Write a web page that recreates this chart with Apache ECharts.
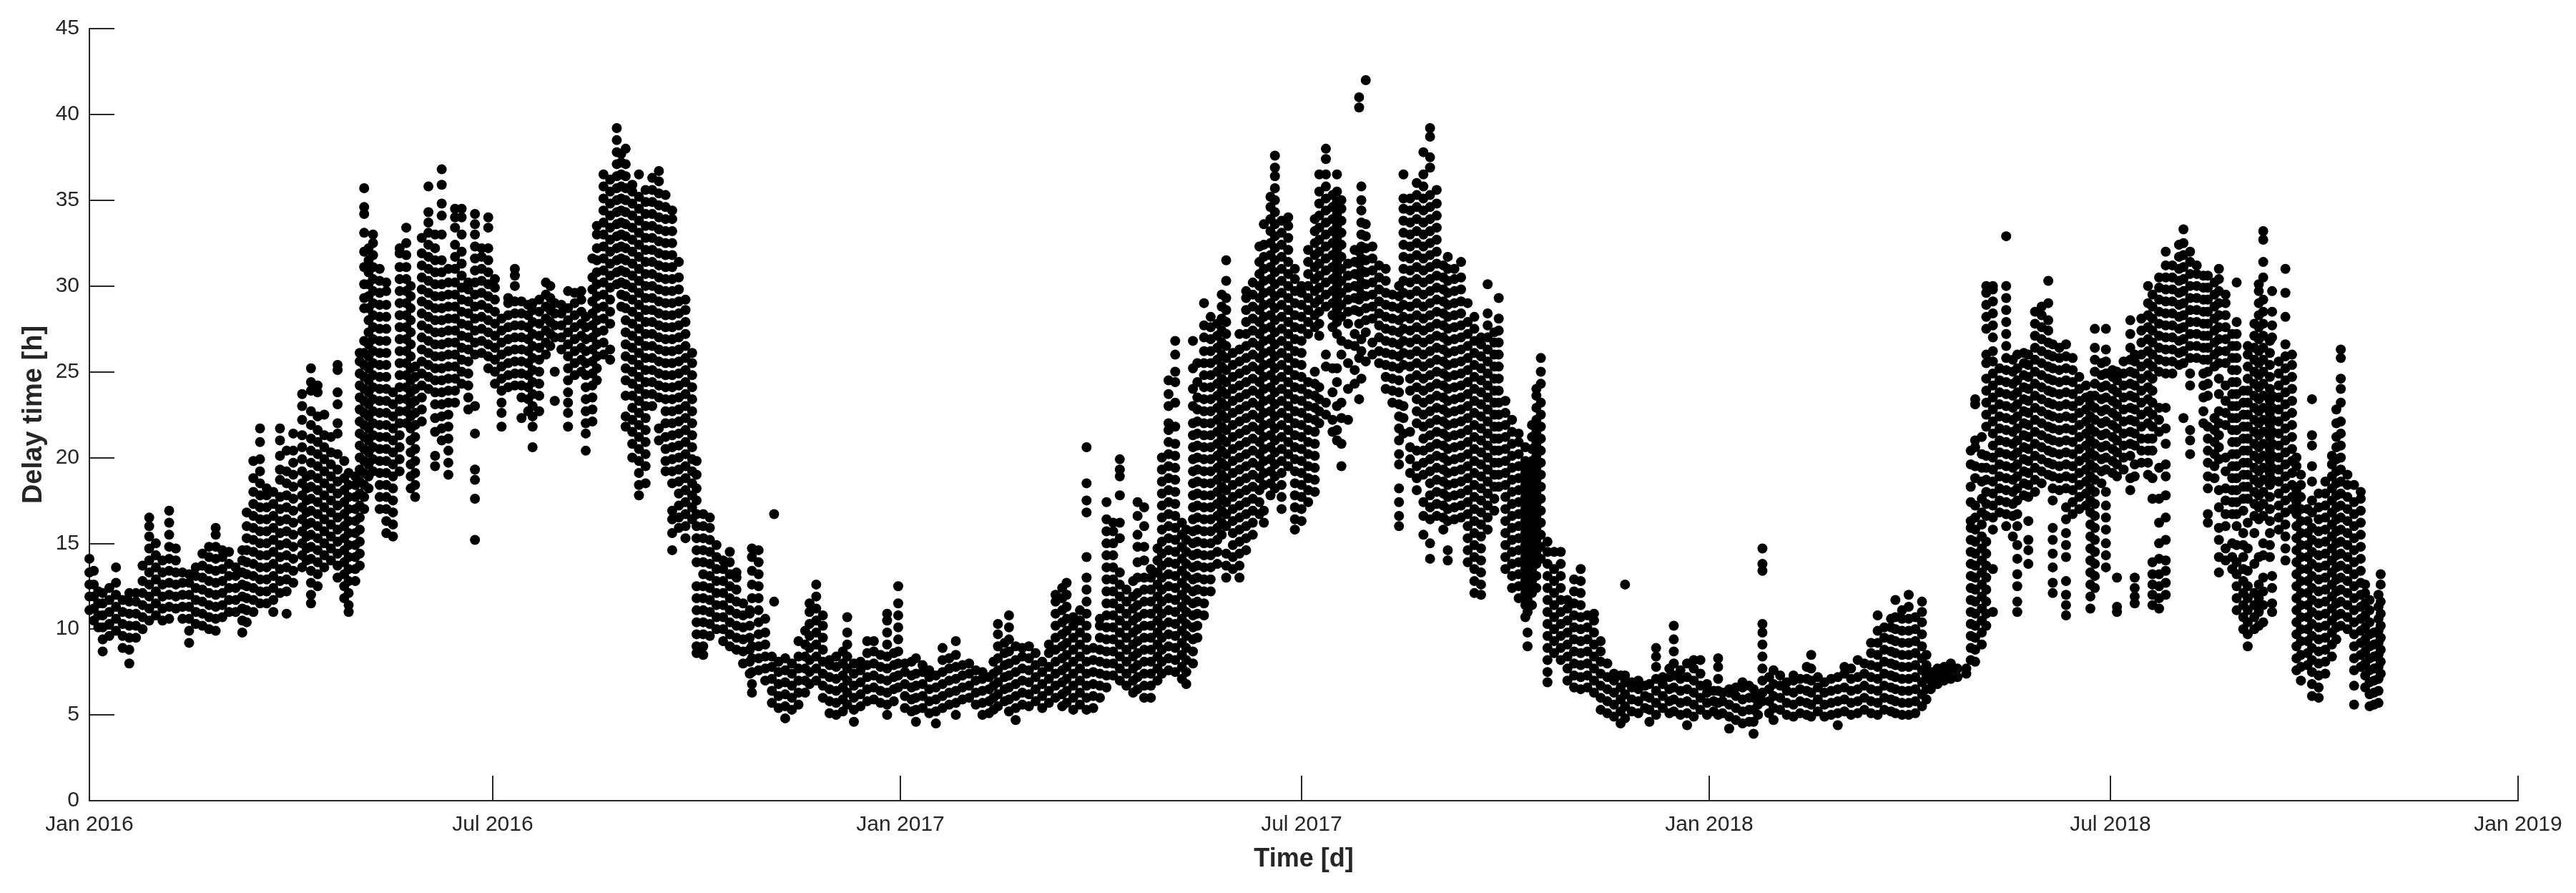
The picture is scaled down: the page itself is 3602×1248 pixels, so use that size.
<!DOCTYPE html>
<html>
<head>
<meta charset="utf-8">
<style>
    html, body { margin: 0; padding: 0; background: #fff; }
    #delayChart { width: 3602px; height: 1248px; }
</style>
</head>
<body>
<div id="delayChart"></div>
<script src="https://cdn.jsdelivr.net/npm/echarts@6/dist/echarts.min.js"></script>
<script>
// [days since 1 Jan 2016, delay values in hours...]
const delay2016a = [
[0,11.1,11.9,12.6,13.3,14.1],[2,10.5,11.2,11.9,12.6,13.4],[4,10.1,10.8,11.5,12.2],[6,8.7,9.4,10.1,10.8,11.5,12.1],
[9,9.6,10.3,11,11.7,12.4],[12,9.9,10.6,11.3,12,12.7,13.6],[15,8.9,9.6,10.3,11,11.7],[18,8,8.8,9.5,10.2,10.9,11.6,12.1],
[21,9.5,10.2,10.9,11.6,12.1],[24,10,10.7,11.4,12.1,12.8,13.7],[27,10.5,11.2,11.9,12.6,13.3,14,14.7,15.4,16,16.5],
[30,10.8,11.5,12.2,12.9,13.6,14.3,15],[33,10.5,11.2,11.9,12.6,13.3,14],[36,10.6,11.3,12,12.7,13.4,14.1,14.8,15.5,16.2,16.9],
[39,11.2,11.9,12.6,13.3,14,14.7],[42,10.6,11.3,12,12.7,13.3],[45,9.2,9.9,10.6,11.3,12,12.7,13.2],[48,10.3,11,11.7,12.4,13.1,13.6],
[51,10.2,10.9,11.6,12.3,13,13.7,14.4],[54,10,10.7,11.4,12.1,12.8,13.5,14.2,14.8],[57,9.9,10.6,11.3,12,12.7,13.4,14.1,14.8,15.5,15.9],
[60,10.7,11.4,12.1,12.8,13.5,14.2,14.6],[63,11,11.7,12.4,13.1,13.8,14.5],[66,11,11.7,12.4,13.1,13.6],[69,9.8,10.5,11.2,11.9,12.6,13.3,14,14.6],
[71,10.4,11.1,11.8,12.5,13.2,13.9,14.6,15.3,16,16.8],[74,11,11.7,12.4,13.1,13.8,14.5,15.2,15.9,16.6,17.3,18,18.8,19.8],
[77,11.5,12.2,12.9,13.6,14.3,15,15.7,16.4,17.1,17.8,18.5,19.2,19.9,20.9,21.7],[80,11.5,12.2,12.9,13.6,14.3,15,15.7,16.4,17.1,17.8,18.2],
[83,11,11.7,12.4,13.1,13.8,14.5,15.2,15.9,16.6,17.3,18],[86,12.1,12.8,13.5,14.2,14.9,15.6,16.3,17,17.7,18.7,19.3,20.1,21,21.7],
[89,10.9,12.2,12.9,13.6,14.3,15,15.7,16.4,17.1,17.8,18.5,19.2,20.4],[92,12.7,13.4,14.1,14.8,15.5,16.2,16.9,17.6,18.3,19,19.7,20.4,21.4],
[96,13.6,14.3,15,15.7,16.4,17.1,17.8,18.5,19.2,19.9,20.6,21.3,22.2,23,23.7],[98,14,14.7,15.4,16.1,16.8,17.5,18.2,18.9],
[100,11.5,12,12.7,13.4,14.1,14.8,15.5,16.2,16.9,17.6,18.3,19,19.7,20.4,21.1,21.9,22.7,23.9,24.4,25.2],
[103,12.5,13.2,13.9,14.6,15.3,16,16.7,17.4,18.1,18.8,19.5,20.2,20.9,21.6,22.4,23.8,24.2],[106,13.6,14.3,15,15.7,16.4,17.1,17.8,18.5,19.2,19.9,20.6,21.3,22.5],
[109,14,14.7,15.4,16.1,16.8,17.5,18.2,18.9,19.6,20.3,21.2],[112,13,13.7,14.4,15.1,15.8,16.5,17.2,17.9,18.6,19.3,20.2,21.4,22,23.1,23.8,25.1,25.4],
[115,11.8,12.5,13.2,13.9,14.6,15.3,16,16.7,17.4,18.1,18.8,19.8],[117,11,11.4,12.1,12.8,13.5,14.2,14.9,15.6,16.3,17,17.7,18.4,19.1],
[120,12.8,13.5,14.2,14.9,15.6,16.3,17,17.7,18.4,18.9],[122,13.7,14.4,15.1,15.8,16.5,17.2,17.9,18.6,19.3,20,20.7,21.4,22.1,22.8,23.5,24.2,24.9,25.6,26.1],
[124,17,17.7,18.4,19.1,19.8,20.5,21.2,21.9,22.6,23.3,24,24.7,25.4,26.1,26.8,28.7,29.3,30.1,31.1,32,33.1,34.2,34.6,35.7],
[126,18.2,18.9,19.6,20.3,21,21.7,22.4,23.1,23.8,24.5,25.2,25.9,26.6,27.3,28,28.7,29.4,30.1,30.8,31.5,32.2],
[128,19.2,19.9,20.6,21.3,22,22.7,23.4,24.1,24.8,25.5,26.2,26.9,27.6,28.3,29,29.7,30.4,31.1,31.8,32.5,33],
[131,17,17.7,18.4,19.1,19.8,20.5,21.2,21.9,22.6,23.3,24,24.7,25.4,26.1,26.8,27.5,28.2,28.9,29.6,30.3,31],
[134,15.6,16.3,17,17.7,18.4,19.1,19.8,20.5,21.2,21.9,22.6,23.3,24,24.7,25.4,26.1,26.8,27.5,28.2,28.9,29.7,30.2],
[137,15.4,16.1,16.8,17.5,18.2,18.9,19.6,20.3,21,21.7,22.4,23.1,23.8],[140,19.2,19.9,20.6,21.3,22,22.7,23.4,24.1,24.8,25.5,26.2,26.9,27.6,28.3,29,29.7,30.4,31.1,31.9,32.2],
[143,22,22.7,23.4,24.1,24.8,25.5,26.2,26.9,27.6,28.3,29,29.7,30.4,31.1,31.8,32.5,33.4],[145,18.2,18.9,19.6,20.3,21,21.7,22.4,23.1,23.8,24.5,25.2,25.9,26.6,27.3,28,28.7,29.4,30],
[147,17.7,18.4,19.1,19.8,20.5,21.2,21.9,22.6,23.3,24,24.7,25.3],[150,22.1,22.8,23.5,24.2,24.9,25.6,26.3,27,27.7,28.4,29.1,29.8,30.5,31.2,31.9,32.8],
[153,24,24.7,25.4,26.1,26.8,27.5,28.2,28.9,29.6,30.3,31,31.7,32.4,33.1,33.7,34.3,35.8],[156,19.5,20.1,21.5,22.3,23.1,23.8,24.5,25.2,25.9,26.6,27.3,28,28.7,29.4,30.1,30.8,31.5,32.2,33],
[159,21,21.7,22.4,23.1,23.8,24.5,25.2,25.9,26.6,27.3,28,28.7,29.4,30.1,30.8,31.5,33,34.1,34.8,35.9,36.8],
[162,19,19.7,20.4,21.1,21.8,22.5,23.2,23.9,24.6,25.3,26,26.7,27.4,28.1,28.8,29.5,30.2,31],[165,23.2,23.9,24.6,25.3,26,26.7,27.4,28.1,28.8,29.5,30.2,31,31.7,32.4,33.4,34,34.5],
[168,24.3,25,25.7,26.4,27.1,27.8,28.5,29.2,29.9,30.6,31.3,32,33,34,34.5],[171,22.8,23.5,24.2,24.9,25.6,26.3,27,27.7,28.4,29.1,29.8,30.2],
[174,15.2,17.6,18.7,19.3,21.4,23,26,26.7,27.4,28.1,28.8,29.5,30.2,30.9,31.6,32.3,33,33.6,34.2],[177,26.1,26.8,27.5,28.2,28.9,29.6,30.3,31,31.7,32.2],
[180,25.2,25.9,26.6,27.3,28,28.7,29.4,30.1,30.8,31.5,32.2,33.4,34]
];
const delay2016b = [
[183,24.3,25,25.7,26.4,27.1,27.8,28.5,29.2,29.9,30.4],[186,21.8,22.6,23.2,23.9,24.6,25.3,26,26.7,27.4,28.1],[189,24.1,24.8,25.5,26.2,26.9,27.6,28.3,29,29.3],
[192,24.2,24.9,25.6,26.3,27,27.7,28.4,29.1,30,30.6,31],[195,22.3,23.5,24.2,24.9,25.6,26.3,27,27.7,28.4,29.1],[198,22.7,23.4,24.1,24.8,25.5,26.2,26.9,27.6,28.3,28.9],
[200,20.6,21.8,22.4,23,23.7,24.4,25.1,25.8,26.5,27.2,27.9,28.6,29],[203,22.7,23.6,24.3,25,25.7,26.4,27.1,27.8,28.5,29.2],[206,26,26.7,27.4,28.1,28.8,29.5,30.2],
[208,26.5,27.2,27.9,28.6,29.3,30],[210,23.3,25,27,27.7,28.4,29],[213,26.3,27,27.7,28.4,28.9],[216,21.8,22.6,23.2,23.8,24.5,25.2,25.9,26.6,27.3,28,28.7,29.7],
[219,24.8,25.5,26.2,26.9,27.6,28.3,29,29.6],[222,25,25.7,26.4,27.1,27.8,28.5,29.2,29.7],[224,20.4,21.4,22,22.7,23.4,24.1,24.8,25.5,26.2,26.9,27.6,28.2],
[227,22.1,22.8,23.5,24.2,24.9,25.6,26.3,27,27.7,28.4,29.1,29.8,30.5,31.6],[229,24.5,25.2,25.9,26.6,27.3,28,28.7,29.4,30.1,30.8,31.5,32.2,33,33.5],
[232,26,26.7,27.4,28.1,28.8,29.5,30.2,30.9,31.6,32.3,33,33.7,34.4,35.1,35.8,36.5],[235,25.7,26.3,27.8,28.5,29.2,29.9,30.6,31.3,32,32.7,33.4,34.1,34.8,35.5,36.2],
[238,30.1,30.8,31.5,32.2,32.9,33.6,34.3,35,35.7,36.4,37.1,37.8,38.5,39.2],[240,28.8,29.5,30.2,30.9,31.6,32.3,33,33.7,34.4,35.1,35.8,36.5,37.2,37.7],
[242,21.8,22.4,23.6,24.5,25.2,25.9,26.6,27.3,28,28.7,29.4,30.1,30.8,31.5,32.2,32.9,33.6,34.3,35,35.7,36.4,37.1,38],
[245,20,20.8,21.5,22.2,22.9,23.6,24.3,25,25.7,26.4,27.1,27.8,28.5,29.2,29.9,30.6,31.3,32,32.7,33.4,34.1,34.8,35.5,35.9],
[248,17.8,18.4,19.1,19.8,20.5,21.2,21.9,22.6,23.3,24,24.7,25.4,26.1,26.8,27.5,28.2,28.9,29.6,30.3,31,31.7,32.4,33.1,33.8,34.5,35.2,36.5],
[251,18.5,19.5,20.2,20.9,21.6,22.3,23,23.7,24.4,25.1,25.8,26.5,27.2,27.9,28.6,29.3,30,30.7,31.4,32.1,32.8,33.5,34.2,34.9,35.6],
[254,23,23.7,24.4,25.1,25.8,26.5,27.2,27.9,28.6,29.3,30,30.7,31.4,32.1,32.8,33.5,34.2,34.9,35.6,36.3],
[257,21,21.7,23.5,24.2,24.9,25.6,26.3,27,27.7,28.4,29.1,29.8,30.5,31.2,31.9,32.6,33.3,34,34.7,35.4,36.1,36.7],
[260,19.2,19.8,20.5,21.2,22,22.7,23.4,24.1,24.8,25.5,26.2,26.9,27.6,28.3,29,29.7,30.4,31.1,31.8,32.5,33.2,33.9,34.6,35.3],
[263,14.6,15.6,16.4,16.9,18.5,19.2,19.9,20.6,21.3,22,22.7,23.4,24.1,24.8,25.5,26.2,26.9,27.6,28.3,29,29.7,30.4,31.1,31.8,32.5,33.2,33.9,34.4],
[266,15.9,16.5,17.2,17.9,18.6,19.3,20,20.7,21.4,22.1,22.8,23.5,24.2,24.9,25.6,26.3,27,27.7,28.4,29.1,29.8,30.5,31.4],
[269,15.3,16,16.7,17.4,18.1,18.8,19.5,20.2,20.9,21.6,22.3,23,23.7,24.4,25.1,25.8,26.5,27.2,27.9,28.6,29.2],
[272,16.4,17.1,17.8,18.5,19.2,19.9,20.6,21.3,22,22.7,23.4,24.1,24.8,25.5,26.1],[274,8.6,9,9.7,10.4,11.1,11.8,12.5,13.9,14.6,15.3,16,16.7,17.5,18.2,19,19.8],
[277,8.5,9,9.7,10.4,11.1,11.8,12.5,13.2,13.9,14.6,15.3,16,16.7],[280,9.6,10.3,11,11.7,12.4,13.1,13.8,14.5,15.2,15.9,16.5],
[283,10,10.7,11.4,12.1,12.8,13.5,14.2,14.9],[286,9.3,10,10.7,11.4,12.1,12.8,13.5,14],[289,9,9.7,10.4,11.1,11.8,12.5,13.2,13.9,14.5],
[292,8.8,9.5,10.2,10.9,11.6,12.3,13,13.3],[295,8,8.7,9.4,10.1,10.8,11.5],[298,7.4,8.1,8.8,9.5,10.2,10.9,11.1],[299,6.3,6.8,7.5,8.3,9,11.8,12.6,13.4,14.2,14.7],
[302,7.6,8.3,9,9.7,10.4,11.1,11.8,12.5,13.2,13.9,14.6],[305,7,7.7,8.4,9.1,9.8,10.6],[308,5.7,6.4,7.1,7.8,8.4],[309,11.6,16.7],[311,5.4,6.1,6.8,7.5,8.1],
[314,4.8,5.5,6.2,6.9,7.6,8.3],[317,5.3,6,6.7,7.4,8],[320,5.6,6.3,7,7.7,8.4,9.3],[323,6.3,7,7.7,8.4,9.1,9.9],[325,6.8,7.5,8.2,8.9,9.6,10.3,11,11.5],
[328,7,7.7,8.4,9.1,9.8,10.5,11.2,11.9,12.6],[331,6,6.7,7.4,8.1,8.8,9.5,10.2,10.8],[334,5.1,5.8,6.5,7.2,7.9,8.2],[337,5,5.7,6.4,7.1,7.8,8.4],
[340,5.2,5.9,6.6,7.3,8,8.7],[342,5.6,6.3,7,7.7,8.4,9.1,9.8,10.7],[345,4.6,5.3,6,6.7,7.4,8],[348,5.5,6.2,6.9,7.6,8.1],
[351,5.8,6.5,7.2,7.9,8.6,9.3],[354,5.9,6.6,7.3,8,8.7,9.3],[357,5.7,6.4,7.1,7.8,8.5],[360,5,5.6,6.3,7,7.7,8.4,9.1,9.8,10.5,10.9],[363,5.8,6.5,7.2,7.9,8.6]
];
const delay2017a = [
[365,6.6,7.3,8,8.7,9.4,10.1,10.8,11.5,12.5],[368,5.4,6.1,6.8,7.5,8],[371,5.2,5.9,6.6,7.3,8.1],[373,4.6,5.3,6,6.7,7.4,8.3],[376,5.4,6.1,6.8,7.5,7.9],
[379,5.1,5.8,6.5,7.2,7.6],[382,4.5,5.2,5.9,6.6,7.3],[385,5.4,6.1,6.8,7.5,8.2,8.9],[388,5.6,6.3,7,7.7,8.3],[391,5,5.7,6.4,7.1,7.8,8.5,9.3],
[394,5.9,6.6,7.3,7.9],[397,6,6.7,7.4,8],[400,5.6,6.3,7,7.6],[403,5,5.7,6.4,7.1,7.5],[406,5.1,5.8,6.5,7.2],[408,5.3,6,6.7,7.4,8.1],
[410,5.5,6.2,6.9,7.6,8.3,9,9.7,10.3],[413,5.8,6.5,7.2,7.9,8.6,9.2],[415,5.2,5.9,6.6,7.3,8,8.7,9.4,10.1,10.8],[418,4.7,5.4,6.1,6.8,7.5,8.2,9],
[421,5.6,6.3,7,7.7,8.4,8.9],[424,5.5,6.2,6.9,7.6,8.3,9],[427,5.8,6.5,7.2,7.9,8.6],[430,5.4,6.1,6.8,7.5,8.1],[433,5.7,6.4,7.1,7.8,8.6,9.1],
[436,6,6.7,7.4,8.1,8.8,9.5,10.2,10.9,11.6,12],[439,5.5,6.2,6.9,7.6,8.3,9,9.7,10.4,11.1,11.8,12.4],[441,5.7,6.4,7.1,7.8,8.5,9.2,9.9,10.6,11.3,12,12.7],
[444,5.3,6,6.7,7.4,8.1,8.8,9.5,10.2,10.7],[447,5.6,6.3,7,7.7,8.4,9.1,9.8,10.5,11.1],[450,5.3,6,6.7,7.4,8.1,8.8,9.5,10.2,10.9,11.6,12.3,13,14.2,16.8,17.5,18.5,20.6],
[453,5.4,6.1,6.8,7.5,8.2,8.9],[456,6,6.7,7.4,8.1,8.8,9.5,10.2,10.6],[459,6.6,7.3,8,8.7,9.4,10.1,10.8,11.5,12.2,12.9,13.6,14.3,15,15.7,16.4,17.4],
[462,7.3,8,8.7,9.4,10.1,10.8,11.5,12.2,12.9,13.6,14.3,15,15.7,16.2],[465,7,7.7,8.4,9.1,9.8,10.5,11.2,11.9,12.6,13.3,15.3,16.2,17.8,18.9,19.3,19.9],
[468,6.7,7.4,8.1,8.8,9.5,10.2,10.9,11.6,12.3],[471,6.3,7,7.7,8.4,9.1,9.8,10.5,11.2,11.9,12.8],[473,6.5,7.2,7.9,8.6,9.3,10,10.7,11.4,12.1,13,13.9,14.8,15.5,16.6,17.4],
[476,6,6.7,7.4,8.1,8.8,9.5,10.2,10.9,11.6,12.3,13,14,14.8,16,17.1],[479,6,6.7,7.4,8.1,8.8,9.5,10.2,10.9,11.6,12.3,13,13.5],
[482,7,7.7,8.4,9.1,9.8,10.5,11.2,11.9,12.6,13.3,14,14.7],[484,7.4,8.1,8.8,9.5,10.2,10.9,11.6,12.3,13,13.7,14.4,15.1,15.8,16.5,17.2,17.9,18.6,19.3,20],
[487,7.6,8.3,9,9.7,10.4,11.1,11.8,12.5,13.2,13.9,14.6,15.3,16,16.7,17.4,18.1,18.8,19.5,20.2,20.9,21.6,22,23,23.7,24.5],
[490,7.5,8.2,8.9,9.6,10.3,11,11.7,12.4,13.1,13.8,14.5,15.2,15.9,16.6,17.3,18,18.7,19.4,20.1,20.8,21.8,23.2,24.4,25,26,26.8],
[493,7.1,7.8,8.5,9.2,9.9,10.6,11.3,12,12.7,13.4,14.1,14.8,15.5,16.2],[495,6.8,7.5,8.2,8.9,9.6,10.3,11,11.7,12.4,13.1,13.8,14.5,15.2,15.8],
[498,8,8.7,9.4,10.1,10.8,11.5,12.2,12.9,13.6,14.3,15,15.7,16.4,17.1,17.8,18.5,19.2,19.9,20.6,21.3,22,23,24,25.2,26.8],
[500,9.5,10.2,10.9,11.6,12.3,13,13.7,14.4,15.1,15.8,16.5,17.2,17.9,18.6,19.3,20,20.7,21.4,22.1,22.8,23.5,24.4,25.5],
[503,10.8,11.5,12.2,12.9,13.6,14.3,15,15.7,16.4,17.1,17.8,18.5,19.2,19.9,20.6,21.3,22,22.7,23.4,24.1,24.8,25.5,26.2,27,27.7,29],
[506,12.2,12.9,13.6,14.3,15,15.7,16.4,17.1,17.8,18.5,19.2,19.9,20.6,21.3,22,22.7,23.4,24.1,24.8,25.5,26.2,26.9,27.6,28.2],
[509,13.8,14.5,15.2,15.9,16.6,17.3,18,18.7,19.4,20.1,20.8,21.5,22.2,22.9,23.6,24.3,25,25.7,26.4,27.1,27.8],
[511,15.5,16.2,16.9,17.6,18.3,19,19.7,20.4,21.1,21.8,22.5,23.2,23.9,24.6,25.3,26,26.7,27.4,28.1,28.8,29.5],
[513,13,13.7,14.4,16,16.7,17.4,18.1,18.8,19.5,20.2,20.9,21.6,22.3,23,23.7,24.4,25.1,25.8,26.5,27.2,27.9,28.6,29.3,30.3,31.5],
[516,13.5,14.2,14.9,15.6,16.3,17,17.7,18.4,19.1,19.8,20.5,21.2,21.9,22.6,23.3,24,24.7,25.4,26.1],[519,13,13.7,14.4,15.1,15.8,16.5,17.2,17.9,18.6,19.3,20,20.7,21.4,22.1,22.8,23.5,24.2,24.9,25.6,26.3,27.2],
[522,14.6,15.3,16,16.7,17.4,18.1,18.8,19.5,20.2,20.9,21.6,22.3,23,23.7,24.4,25.1,25.8,26.5,27.2,27.9,28.6,29.3,29.7],
[525,15.5,16.2,16.9,17.6,18.3,19,19.7,20.4,21.1,21.8,22.5,23.2,23.9,24.6,25.3,26,26.7,27.4,28.1,28.8,29.5,30.2],
[528,16.7,17.4,18.1,18.8,19.5,20.2,20.9,21.6,22.3,23,23.7,24.4,25.1,25.8,26.5,27.2,27.9,28.6,29.3,30,30.7,31.4,32.3],
[530,16.2,16.9,18.4,19.1,19.8,20.5,21.2,21.9,22.6,23.3,24,24.7,25.4,26.1,26.8,27.5,28.2,28.9,29.6,30.3,31,31.7,32.4,33.6],
[533,17.8,18.5,19.2,19.9,20.6,21.3,22,22.7,23.4,24.1,24.8,25.5,26.2,26.9,27.6,28.3,29,29.7,30.4,31.1,31.8,32.5,33.2,33.9,34.6,35.2],
[535,18.2,18.9,19.6,20.3,21,21.7,22.4,23.1,23.8,24.5,25.2,25.9,26.6,27.3,28,28.7,29.4,30.1,30.8,31.5,32.2,32.9,33.6,34.3,35,35.7,36.4,36.9,37.6],
[538,17,17.7,18.4,19.1,19.8,20.5,21.2,21.9,22.6,23.3,24,24.7,25.4,26.1,26.8,27.5,28.2,28.9,29.6,30.3,31,31.7,32.4,33.1,33.8],
[541,19.5,20.2,20.9,21.6,22.3,23,23.7,24.4,25.1,25.8,26.5,27.2,27.9,28.6,29.3,30,30.7,31.4,32.1,32.8,33.5,34],
[544,15.8,16.4,17.1,17.8,18.5,19.2,19.9,20.6,21.3,22,22.7,23.4,24.1,24.8,25.5,26.2,26.9,27.6,28.3,29,29.7,30.4,31],
[547,16.3,17,17.7,18.4,19.1,19.8,20.5,21.2,21.9,22.6,23.3,24,24.7,25.4,26.1,26.8,27.5,28.2,28.9,29.6,30]
];
const delay2017b = [
[550,17.4,18.1,18.8,19.5,20.2,20.9,21.6,22.3,23,23.7,24.4,27.2,27.9,28.6,29.3,30,30.7,31.4,32.1],[553,18,18.7,19.4,20.1,20.8,21.5,22.2,22.9,23.6,24.3,25,27.6,28.3,29,29.7,30.4,31.1,31.8,32.5,33.2,33.9],
[555,22,22.7,23.4,24.1,27.1,27.8,28.5,29.2,29.9,30.6,31.3,32,32.7,33.4,34.1,34.8,35.5,36.5],[558,22.5,23.2,25.3,26,28.8,29.5,30.2,30.9,31.6,32.3,33,33.7,34.4,35.1,35.8,36.5,37.4,38],
[561,21.5,22.2,23.8,25.2,27.6,28.3,29,29.7,30.4,31.1,31.8,32.5,33.2,33.9,34.6,35.3],[563,21,21.6,23,24.4,25.2,27.2,27.9,28.6,29.3,30,30.7,31.4,32.1,32.8,33.5,34.2,34.9,35.5,36.5],
[565,19.5,20.8,22.3,23.2,26,26.8,28.2,28.9,29.6,30.3,31,31.7,32.4,33.1,33.8,34.5,35],[568,22.2,24,25.5,26.6,27.8,28.5,29.2,29.9,30.6,31.3],
[571,24.3,25.1,26.5,27.2,28.6,29.3,30,30.7,31.4,32.1],[573,23.4,25.8,27.8,28.5,29.2,29.9,30.6,31.3,32,40.4,41],[574,24.6,26.2,26.9,29.5,30.2,30.9,31.6,32.3,33,33.7,34.4,35,35.8],
[576,25.6,27.3,28,28.7,29.4,30.1,30.8,31.5,32.2,32.9,33.6,42],[579,26,26.7,28.1,28.8,29.5,30.2,30.9,31.6,32.3],[582,25.5,26.2,27,27.7,28.4,29.1,29.8,30.5,31.2],
[585,24,24.7,25.4,26.1,26.8,27.5,28.2,28.9,29.6,30.3,31],[588,23.2,23.9,24.6,25.3,26,26.7,27.4,28.1,28.8,29.5],[591,16,16.6,17.4,18.2,19.6,20.2,21,21.7,22.4,23.1,23.8,24.5,25.2,25.9,26.6,27.3,28,28.7,29.4,30],
[593,21.4,22.3,23,25.4,26.1,26.8,27.5,28.2,28.9,29.6,30.3,31,31.7,32.4,33.1,33.8,34.5,35.1,36.5],[596,19.1,19.9,20.6,21.5,23.9,24.6,25.3,26,26.7,27.4,28.1,28.8,29.5,30.2,30.9,31.6,32.3,33,33.7,34.4,35.1],
[599,18.1,18.8,19.5,20.4,22,22.7,23.4,24.1,24.8,25.5,26.2,26.9,27.6,28.3,29,29.7,30.4,31.1,31.8,32.5,33.2,33.9,34.6,35.3,36],[602,15.5,16.6,17.4,19,19.7,20.4,21.1,21.8,22.5,23.2,23.9,24.6,25.3,26,26.7,27.4,28.1,28.8,29.5,30.2,30.9,31.6,32.3,33,33.7,34.4,35.1,35.8,36.5,37.8],
[605,14.1,15,16.4,17.1,17.8,18.5,19.2,19.9,20.6,21.3,22,22.7,23.4,24.1,24.8,25.5,26.2,26.9,27.6,28.3,29,29.7,30.4,31.1,31.8,32.5,33.2,33.9,34.6,35.3,36.9,37.5,38.7,39.2],
[608,16.6,17.3,18,18.7,19.4,20.1,20.8,21.5,22.2,22.9,23.6,24.3,25,25.7,26.4,27.1,27.8,28.5,29.2,29.9,30.6,31.3,32,32.7,33.4,34.1,34.8,35.6],
[611,15.8,16.5,17.2,17.9,18.6,19.3,20,20.7,21.4,22.1,22.8,23.5,24.2,24.9,25.6,26.3,27,27.7,28.4,29.1,29.8,30.5,31.2],[613,14,14.6,16.3,17,17.7,18.4,19.1,19.8,20.5,21.2,21.9,22.6,23.3,24,24.7,25.4,26.1,26.8,27.5,28.2,28.9,29.6,30.3,31,31.7],
[616,16.4,17.1,17.8,18.5,19.2,19.9,20.6,21.3,22,22.7,23.4,24.1,24.8,25.5,26.2,26.9,27.6,28.3,29,29.7,30.4,31],[619,16.5,17.2,17.9,18.6,19.3,20,20.7,21.4,22.1,22.8,23.5,24.2,24.9,25.6,26.3,27,27.7,28.4,29.1,29.8,30.5,31.4],
[622,13.9,14.6,15.3,16,16.7,17.4,18.1,18.8,19.5,20.2,20.9,21.6,22.3,23,23.7,24.4,25.1,25.8,26.5,27.2,27.9,29],[625,12.1,12.8,13.5,14.2,14.9,15.6,16.3,17,17.7,18.4,19.1,19.8,20.5,21.2,21.9,22.6,23.3,24,24.7,25.4,26.1,26.8,27.5,28.2],
[628,12,12.6,13.3,14,14.7,15.4,16.1,16.8,17.5,18.2,18.9,19.6,20.3,21,21.7,22.4,23.1,23.8,24.5,25.2,25.9,26.6,27],[631,15.8,16.5,17.2,17.9,18.6,19.3,20,20.7,21.4,22.1,22.8,23.5,24.2,24.9,25.6,26.3,27,27.7,28.4,30.1],
[634,16.9,17.6,18.3,19,19.7,20.4,21.1,21.8,22.5,23.2,23.9,24.6,25.3,26,26.7,27.3],[636,18.3,19,19.7,20.4,21.1,21.8,22.5,23.2,23.9,24.6,25.3,26,26.7,27.4,28.1,29.3],[639,13.5,14.2,14.9,15.6,16.3,17,17.7,18.4,19.1,19.8,20.5,21.2,21.9,22.6,23.3],
[642,12.4,13.1,13.8,14.5,15.2,15.9,16.6,17.3,18,18.7,19.4,20.1,20.8,21.5,22.2],[645,11.8,12.5,13.2,13.9,14.6,15.3,16,16.7,17.4,18.1,18.8,19.5,20.2,20.9,21.4],[648,10.7,11.4,12.1,12.8,13.5,14.2,14.9,15.6,16.3,17,17.7,18.4,19.1,19.8,20.6],
[649,9,9.8,11,11.7,12.4,13.1,13.8,14.5,15.2,15.9,16.6,17.3,18,18.7,19.4],[651,11.4,12.1,12.8,13.5,14.2,14.9,15.6,16.3,17,17.7,18.4,19.1,19.8,20.5,21.2,21.9],[653,12.4,13.1,13.8,14.5,15.2,15.9,16.6,17.3,18,18.7,19.4,20.1,20.8,21.5,22.2,22.9,23.6,24],
[655,14.1,14.8,15.5,16.2,16.9,17.6,18.3,19,19.7,20.4,21.1,21.8,22.5,23.2,24.3,25,25.8],[658,6.9,7.5,8.2,8.9,9.6,10.3,11,11.7,12.4,13.1,13.8,14.5,15.1],[661,8.6,9.3,10,10.7,11.4,12.1,12.8,13.5,14.5],
[664,8.2,8.9,9.6,10.3,11,11.7,12.4,13.1,13.8,14.5],[667,7,7.7,8.4,9.1,9.8,10.5,11.2,11.7],[670,6.6,7.3,8,8.7,9.4,10.1,10.8,11.5,12.2,12.9],[673,6.5,7.2,7.9,8.6,9.3,10,10.7,11.4,12.1,12.8,13.5],
[676,6.6,7.3,8,8.7,9.4,10.1,10.8],[679,6.3,7,7.7,8.4,9.1,9.8,10.5,10.9],[682,5.3,6,6.7,7.4,8.1,8.7,9.3],[685,5.1,5.8,6.5,7.2,8],[688,4.9,5.6,6.3,7,7.4],[691,4.5,5.2,5.9,6.6,7.3],
[693,4.8,5.5,6.2,6.9,7.3,12.6],[696,5.2,5.9,6.6,6.9],[699,5.1,5.8,6.5,7],[702,5.4,6.1,6.7],[704,4.6,5.3,6,6.8],[707,5,5.7,6.4,7.1,7.8,8.4,8.9],[710,5.4,6.1,6.8,7.2],[713,5.1,5.8,6.5,7.2,7.7],
[715,5.2,5.9,6.6,7.3,8,8.7,9.4,10.2],[718,5,5.7,6.4,7.1,7.6],[721,4.4,5.1,5.8,6.5,7.2,8],[724,4.9,5.6,6.3,7,7.7,8.2],[727,5.3,6,6.7,7.4,8.2],[730,5,5.7,6.3,6.8]
];
const delay2018a = [
[733,5.2,5.8,6.4],[735,5,5.7,6.4,7.1,7.8,8.3],[737,5.1,5.8,6.3],[740,4.2,4.9,5.6,6.3,6.5],[743,4.7,5.4,6.1,6.6],[746,4.5,5.2,5.9,6.6,6.9],[749,4.6,5.3,6,6.7],[751,3.9,4.6,5.3,6,6.5],
[753,5,5.6,6.2],[755,5.8,6.3,7,7.7,8.4,9.1,9.8,10.3,13.4,13.8,14.7],[758,5.1,5.8,6.5,7.2],[760,4.7,5.4,6.1,6.8,7.6],[763,5.3,6,6.7,7.3],[766,5,5.7,6.4,6.9],[769,4.9,5.6,6.3,7,7.3],
[772,5.1,5.8,6.5,7.1],[775,5,5.7,6.4,7.1,7.8],[777,4.9,5.6,6.3,7,7.7,8.5],[780,5.2,5.9,6.6,7.2],[783,4.9,5.6,6.3,6.9],[786,5,5.7,6.4,7.1],[789,4.4,5.1,5.8,6.5,7.2],
[792,5.2,5.9,6.6,7.4,7.8],[795,5,5.7,6.4,7.1,7.7],[798,5.1,5.8,6.5,7.2,8.2],[801,5.3,6,6.7,7.4,8],[804,5.1,5.8,6.5,7.2,7.9,8.6,9.2],[807,5,5.7,6.4,7.1,7.8,8.5,9.2,9.9,10.8],
[810,5.3,6,6.7,7.4,8.1,8.8,9.5,10.1],[813,5.2,5.9,6.6,7.3,8,8.7,9.4,10.1,10.6],[815,5.1,5.8,6.5,7.2,7.9,8.6,9.3,10,10.7,11.7],[818,5,5.7,6.4,7.1,7.8,8.5,9.2,9.9,10.6,11.1],
[821,5,5.7,6.4,7.1,7.8,8.5,9.2,9.9,10.6,11.3,12],[824,5.1,5.8,6.5,7.2,7.9,8.6,9.3,10,10.7],[827,5.5,6.2,6.9,7.6,8.3,9,9.7,10.4,11,11.6],[829,5.9,6.5,7.2,7.9,8.5],
[831,6.5,7,7.5],[834,6.8,7.3,7.7],[837,7,7.5,7.8],[840,7.1,7.6,8],[843,7.2,7.7],[847,7.4,7.7],[849,8.2,8.9,9.6,10.3,11,11.7,12.4,13.1,13.8,14.5,15.2,15.9,16.3,17.4,18.3,19.6,20.4],
[851,8.1,8.8,9.5,10.2,10.9,11.6,12.3,13,13.7,14.4,15.1,15.8,16.5,17.2,18.8,19.5,20.6,21,23.1,23.4],[854,9.1,9.8,10.5,11.2,11.9,12.6,13.3,14,14.7,15.4,16.1,16.8,17.6,18.6,19.4,20.2,21.2],
[856,10.2,10.9,11.6,12.3,13,13.7,14.4,15.1,16.6,17.3,18,18.7,19.4,20.1,21.8,22.5,23.2,23.9,24.6,25.5,26,27.5,28.2,28.9,29.6,30],[859,11,13.5,15.8,16.5,17.2,17.9,18.6,19.3,20,20.7,21.4,22.1,22.8,23.5,24.2,24.9,25.6,26.2,27,27.7,28.4,29.1,29.8,30],
[862,16.8,17.5,18.2,18.9,19.6,20.3,21,21.7,22.4,23.1,23.8,24.5,25.2],[865,16,16.7,17.4,18.1,18.8,19.5,20.2,20.9,21.6,22.3,23,23.7,24.4,25.1,25.8,26.5,27.2,27.9,28.6,29.3,30,32.9],
[868,15.4,16.6,17.3,18,18.7,19.4,20.1,20.8,21.5,22.2,22.9,23.6,24.3,25,25.7],[870,11,11.6,12.5,13.2,14.1,14.9,16,16.7,17.5,18.2,18.9,19.6,20.3,21,21.7,22.4,23.1,23.8,24.5,25.2,26],[873,17.8,18.5,19.2,19.9,20.6,21.3,22,22.7,23.4,24.1,24.8,25.5,26.1],
[875,13.8,14.6,15.2,16.3,17.7,18.4,19.1,19.8,20.5,21.2,21.9,22.6,23.3,24,24.7,25.4,26],[878,18,18.7,19.4,20.1,20.8,21.5,22.2,22.9,23.6,24.3,25,25.7,26.4,27.1,27.8,28.5],[881,18.5,19.2,19.9,20.6,21.3,22,22.7,23.4,24.1,24.8,25.5,26.2,26.9,27.6,28.3,28.8],
[884,19,19.7,20.4,21.1,21.8,22.5,23.2,23.9,24.6,25.3,26,26.7,27.4,28,29,30.3],[886,12.1,12.7,13.6,14.4,15.2,15.9,17.5,18.2,18.9,19.6,20.3,21,21.7,22.4,23.1,23.8,24.5,25.2,25.9,26.6],[889,18.1,18.8,19.5,20.2,20.9,21.6,22.3,23,23.7,24.4,25.1,25.8,26.4],
[892,10.8,11.4,12,12.8,14.2,14.9,15.6,16.4,17.1,18.2,18.9,19.6,20.3,21,21.7,22.4,23.1,23.8,24.5,25.2,25.9,26.6],[895,16.7,17.4,18.1,18.8,19.5,20.2,20.9,21.6,22.3,23,23.7,24.4,25.1,25.8],[898,17,17.7,18.4,19.1,19.8,20.5,21.2,21.9,22.6,23.3,24,24.7],
[901,17.2,17.9,18.6,19.3,20,20.7,21.4,22.1,22.8,23.5,24.2],[903,11.2,11.9,12.6,13.3,14,14.7,15.4,16.1,16.8,17.5,18.2,18.9,19.6,20.3,21,21.7,22.4,23.1,23.6],[905,12.4,13.1,13.8,14.5,15.2,15.9,16.6,17.3,18,18.7,19.4,20.1,20.8,21.5,22.2,22.9,23.6,24.3,25,25.7,26.4,27.5],
[908,18.5,19.2,19.9,20.6,21.3,22,22.7,23.4,24.1,24.8,25.5],[910,13.6,14.3,15,15.8,16.5,17.2,18,19.3,20,20.7,21.4,22.1,22.8,23.5,24.2,24.9,25.6,26.3,27.5],[913,19.1,19.8,20.5,21.2,21.9,22.6,23.3,24,24.7,25.1]
];
const delay2018b = [
[915,11,11.3,13,18.9,19.6,20.3,21,21.7,22.4,23.1,23.8,24.5,25],[918,19.3,20,20.7,21.4,22.1,22.8,23.5,24.2,24.9,25.6],[921,18.1,18.8,20.1,20.8,21.5,22.2,22.9,23.6,24.3,25,25.7,26.4,27.2,28],[923,11.5,11.9,12.4,13,18.9,19.6,20.7,21.4,22.1,22.8,23.5,24.2,24.9,25.6,26],
[926,19.7,20.4,21.1,21.8,22.5,23.2,23.9,24.6,25.3,26,26.7,27.4,28.1],[929,19,19.7,20.4,21.1,22,22.7,23.4,24.1,24.8,25.5,26.2,26.9,27.6,28.3,29,30],[931,11.4,12,12.6,13.2,13.9,17.6,18.8,20.4,21.1,21.8,22.5,23.2,23.9,24.6,25.3,26,26.7,27.4,28.1,28.8,29.5],
[934,11.2,11.8,12.5,13.2,14.1,15,16.2,17.6,19.4,21.5,22.2,22.9,25,25.7,26.4,27.1,27.8,28.5,29.2,29.9,30.5],[937,12,12.7,13.4,14,15.2,16.5,17.8,18.9,19.6,20.8,21.7,22.9,24.9,25.6,26.3,27,27.7,28.4,29.1,29.8,30.5,31.2,32],[940,24.9,25.6,26.3,27,27.7,28.4,29.1,29.8,30.5,31.2],
[943,25.4,26.1,26.8,27.5,28.2,28.9,29.6,30.3,31,31.7,32.4],[945,22.3,25.5,26.2,26.9,27.6,28.3,29,29.7,30.4,31.1,31.8,32.5,33.3],[948,20.2,21,21.6,24.2,24.9,25.8,26.5,27.2,27.9,28.6,29.3,30,30.7,31.4,32],[951,25.8,26.5,27.2,27.9,28.6,29.3,30,30.7,31.2],
[954,22,22.7,23.5,24.2,24.9,25.7,26.4,27.1,27.8,28.5,29.2,29.9,30.6],[956,16.2,16.7,18.2,18.9,19.7,20.4,21.1,21.8,23.6,24.3,25,25.7,26.4,27.1,27.8,28.5,29.2,29.9,30.6],[959,18.8,19.5,20.2,20.9,21.6,22.3,25.3,26,26.7,27.4,28.1,28.8,29.5,30.2],
[961,13.3,14.2,15.2,15.9,17.1,18.1,19.9,20.6,21.3,22,22.7,23.7,24.6,25.5,26.2,26.9,27.6,28.3,29,29.7,30.4,31],[964,14,14.7,16,16.7,17.5,18.2,19.2,20,21.9,22.6,23.3,24.2,25.5,26.2,26.9,27.6,28.3,29,29.5],[967,13.5,14.2,15,16.7,17.4,18.1,18.8,19.5,20.2,20.9,21.6,22.3,23,23.7,24.4,25.1,25.8,26.5,27.2],
[969,11.1,11.8,12.5,13.2,13.9,14.9,16,16.7,17.4,18.1,18.8,19.5,20.2,20.9,21.6,22.3,23,23.7,24.4,25.1,25.8,26.5,27.2,27.9,30.2],[972,10,10.7,11.4,12.1,12.8,13.5,14.2,14.9,15.6,16.9,17.6,18.3,19,19.7,20.4,21.1,21.8,22.5,23.2,23.9],
[974,9,9.7,10.4,11.1,11.8,12.5,13.4,14.7,16.2,17.6,18.3,19,19.7,20.4,21.1,21.8,22.5,23.2,23.9,24.6,25.3,26,26.5],[977,10,10.7,11.4,12.1,13.8,15.6,16.6,17.3,18,18.7,19.4,20.1,20.8,21.5,22.2,22.9,23.6,24.3,25,25.7,26.4,27.1,27.8],
[979,10.2,11,11.8,12.6,14.2,16.4,17.1,17.8,18.5,19.2,19.9,20.6,21.3,22,22.7,23.4,24.1,24.8,25.5,26.2,26.9,27.6,28.3,29,29.7,30.1],[981,10.4,11.4,12.2,13,14.3,15,16.6,17.3,18,18.7,19.4,20.1,20.8,21.5,22.2,22.9,23.6,24.3,25,25.7,26.4,27.1,27.8,28.5,29.2,30.5,31.4,32.7,33.2],
[984,14.2,14.9,15.6,16.3,17,17.7,18.4,19.1,19.8,20.5,21.2,21.9,22.6,23.3,24,24.7,25.4,26.1,26.8],[985,11,11.5,12.4,13.1,18.7,19.4,20.1,20.8,21.5,22.2,22.9,23.6,27,27.7,28.5,29.7],[988,15.8,16.5,17.2,17.9,18.6,19.3,20,20.7,21.4,22.1,22.8,23.5,24.2,24.9,25.6],
[991,14,14.7,15.4,16.1,16.8,17.5,18.2,18.9,19.6,20.3,21,21.7,22.4,23.1,23.8,24.5,25.2,25.9,26.6,28.2,29.6,31],[994,17,17.7,18.4,19.1,19.8,20.5,21.2,21.9,22.6,23.3,24,24.7,25.4,26],[996,7.6,8.3,9,9.7,10.4,11.1,11.8,12.5,13.2,13.9,14.6,15.3,16,16.7,17.4,18.1,19.5,20],
[998,7,7.8,8.5,9.3,10,10.7,11.4,12.1,12.8,13.5,14.2,14.9,15.6,16.3,17,17.7,18.4,19],[1001,7.9,8.6,9.3,10,10.7,11.4,12.1,12.8,13.5,14.2,14.9,15.6,16.3,17],[1003,6.1,6.8,7.5,8.2,8.9,9.6,10.3,11,11.7,12.4,13.1,13.8,14.5,15.2,15.9,16.8,17.5,18.6,19.5,20.7,21.3,23.4],
[1006,6,6.6,7.3,8,8.7,9.4,10.1,10.8,11.5,12.2,12.9,13.6,14.3,15,15.7,16.4,17.1,17.9],[1009,7.4,8.1,8.8,9.5,10.2,10.9,11.6,12.3,13,13.7,14.4,15.1,15.8,16.5,17.2,17.9,18.6],[1012,8.4,9.1,9.8,10.5,11.2,11.9,12.6,13.3,14,14.7,15.4,16.1,16.8,17.5,18.2,18.9,19.6,20.1],
[1014,9.4,10.1,10.8,11.5,12.2,12.9,13.6,14.3,15,15.7,16.4,17.1,17.8,18.5,19.2,19.9,20.6,21.2,22,22.8],[1016,10.2,10.9,11.6,12.3,13,13.7,14.4,15.1,15.8,16.5,17.2,17.9,18.6,19.3,20,20.7,21.4,22.1,23.2,24,24.6,25.8,26.3],[1019,10,10.7,11.4,12.1,12.8,13.5,14.2,14.9,15.6,16.3,17,17.7,18.4,19],
[1022,5.6,6.7,7.6,8.3,9,9.7,10.4,11.1,11.8,12.5,13.2,13.9,14.6,15.3,16,16.7,17.4,18.4],[1025,7.8,8.5,9.2,9.9,10.6,11.3,12,12.7,13.4,14.1,14.8,15.5,16.2,16.9,17.6,18],[1027,6.6,7.3,8,8.7,9.4,10.1,10.8,11.5,12.1,12.6],
[1029,5.5,6.2,6.9,7.6,8.3,9,9.7,10.4,11.1,11.7],[1031,5.6,6.3,7,7.7,8.4,9.1,9.8],[1033,5.7,6.4,7.1,7.8,8.5,9.2,9.9,10.6,11.3,12],[1034,7.4,8.1,8.8,9.5,10.2,10.9,11.6,12.6,13.2]
];

const tickDays = [0, 182, 366, 547, 731, 912, 1096];
const tickLabels = ['Jan 2016', 'Jul 2016', 'Jan 2017', 'Jul 2017', 'Jan 2018', 'Jul 2018', 'Jan 2019'];

var points = [];
[delay2016a, delay2016b, delay2017a, delay2017b, delay2018a, delay2018b].forEach(block => {
    block.forEach(col => {
        for (var i = 1; i < col.length; i++) {
            points.push([col[0], col[i]]);
        }
    });
});

var myChart = echarts.init(document.getElementById('delayChart'));

const axisColor = '#262626';
myChart.setOption({
    animation: false,
    backgroundColor: '#ffffff',
    grid: { left: 125, right: 81, top: 40, bottom: 129 },
    xAxis: {
        type: 'value',
        min: 0,
        max: 1096,
        name: 'Time [d]',
        nameLocation: 'middle',
        nameGap: 64,
        nameTextStyle: { fontFamily: 'Liberation Sans', fontSize: 36, fontWeight: 'bold', color: axisColor },
        axisLine: { lineStyle: { color: axisColor, width: 2 } },
        axisTick: { inside: true, length: 35, lineStyle: { color: axisColor, width: 2 }, customValues: tickDays },
        splitLine: { show: false },
        axisLabel: {
            customValues: tickDays,
            fontFamily: 'Liberation Sans',
            fontSize: 30,
            color: axisColor,
            margin: 19,
            formatter: value => tickLabels[tickDays.indexOf(value)]
        }
    },
    yAxis: {
        type: 'value',
        min: 0,
        max: 45,
        interval: 5,
        name: 'Delay time [h]',
        nameLocation: 'middle',
        nameGap: 56,
        nameTextStyle: { fontFamily: 'Liberation Sans', fontSize: 38, fontWeight: 'bold', color: axisColor },
        axisLine: { show: true, lineStyle: { color: axisColor, width: 2 } },
        axisTick: { show: true, inside: true, length: 35, lineStyle: { color: axisColor, width: 2 } },
        splitLine: { show: false },
        axisLabel: { fontFamily: 'Liberation Sans', fontSize: 30, color: axisColor, margin: 14, padding: [4, 0, 0, 0] }
    },
    series: [
        {
            name: 'Delay time',
            type: 'scatter',
            symbol: 'circle',
            symbolSize: 14,
            itemStyle: { color: '#000000', opacity: 1 },
            data: points
        }
    ]
});
</script>
</body>
</html>
